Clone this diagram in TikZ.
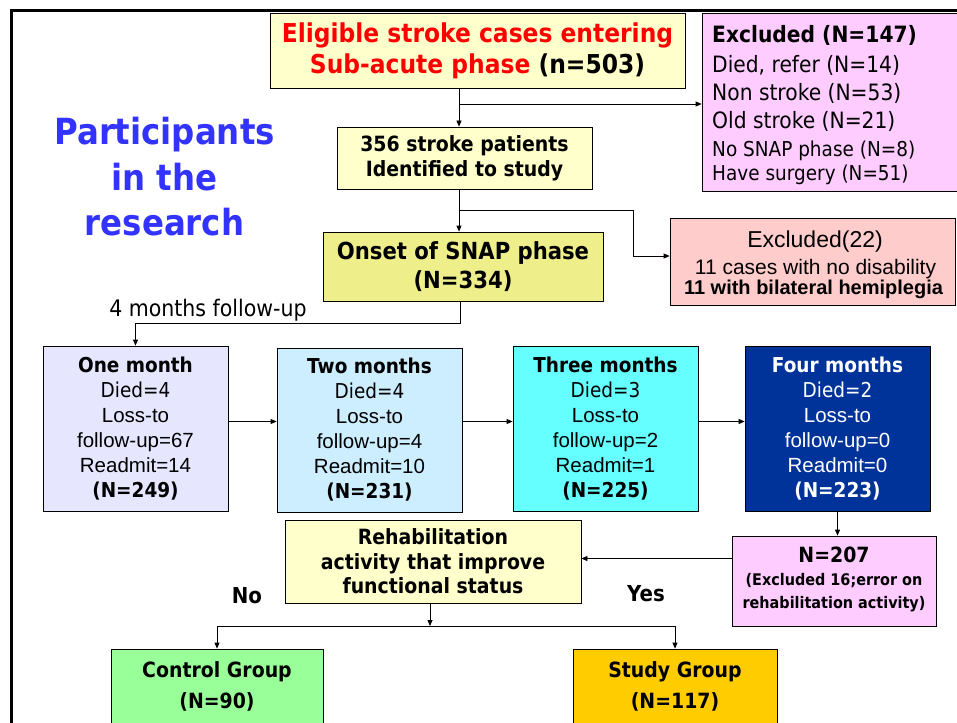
\documentclass[tikz,border=0pt]{standalone}
\usepackage{fontspec}
\setmainfont[FakeStretch=0.9]{DejaVu Sans}
\newfontfamily\ari{Liberation Sans}
\usetikzlibrary{arrows.meta}
\definecolor{titlered}{HTML}{FF0000}
\definecolor{partblue}{HTML}{3333FF}
\definecolor{cYel}{HTML}{FFFFCC}
\definecolor{cPink}{HTML}{FFCCFF}
\definecolor{cOnset}{HTML}{EEEE8A}
\definecolor{cSalmon}{HTML}{FFCCCC}
\definecolor{cOne}{HTML}{E6E6FF}
\definecolor{cTwo}{HTML}{CCEEFF}
\definecolor{cThree}{HTML}{66FFFF}
\definecolor{cFour}{HTML}{003399}
\definecolor{cCtrl}{HTML}{99FF99}
\definecolor{cStudy}{HTML}{FFCC00}
\tikzset{
  box/.style={draw=black, line width=0.8pt, inner sep=0pt, align=center},
  arr/.style={draw=black, line width=0.8pt, -{Triangle[length=6pt,width=5pt]}},
  ln/.style={draw=black, line width=0.8pt},
  monthfont/.style={font=\fontsize{20.5}{25}\selectfont},
  txt/.style={inner sep=0pt},
}
\begin{document}
\begin{tikzpicture}[x=1pt,y=-1pt]
\useasboundingbox (0,0) rectangle (957,722);
\fill[white] (0,0) rectangle (957,722);
% frame
\draw[line width=3pt] (11,730) -- (11,11) -- (960,11);

% title
\node[txt, partblue, font=\bfseries\fontsize{36}{45}\selectfont, anchor=base] (p1) at (164.5,145) {Participants};
\node[txt, partblue, font=\bfseries\fontsize{36}{45}\selectfont, anchor=base] (p2) at (164.5,190.7) {in the};
\node[txt, partblue, font=\bfseries\fontsize{36}{45}\selectfont, anchor=base] (p3) at (164.5,235.7) {research};

% top boxes
\node[box, fill=cYel, minimum width=415pt, minimum height=75pt, font=\bfseries\fontsize{26}{31}\selectfont] (elig) at (477.5,50.5)
  {\textcolor{titlered}{Eligible stroke cases entering}\\\textcolor{titlered}{Sub-acute phase} (n=503)};

\node[box, fill=cPink, minimum width=255pt, minimum height=178pt] (excl147) at (829.5,102) {};
\node[txt, anchor=base west, font=\bfseries\fontsize{22.5}{28}\selectfont] (e1) at (712,42.3) {Excluded (N=147)};
\node[txt, anchor=base west, font=\fontsize{22.5}{28}\selectfont] (e2) at (712,72.7) {Died, refer (N=14)};
\node[txt, anchor=base west, font=\fontsize{22.5}{28}\selectfont] (e3) at (712,100.7) {Non stroke (N=53)};
\node[txt, anchor=base west, font=\fontsize{22.5}{28}\selectfont] (e4) at (712,129) {Old stroke (N=21)};
\node[txt, anchor=base west, font=\fontsize{20.5}{25}\selectfont] (e5) at (712,156.7) {No SNAP phase (N=8)};
\node[txt, anchor=base west, font=\fontsize{20.5}{25}\selectfont] (e6) at (712,180.5) {Have surgery (N=51)};

\node[box, fill=cYel, minimum width=255pt, minimum height=62pt, font=\bfseries\fontsize{21}{25}\selectfont] (p356) at (464.5,158)
  {356 stroke patients\\Identified to study};

\node[box, fill=cOnset, minimum width=280pt, minimum height=69pt, font=\bfseries\fontsize{23.5}{29}\selectfont] (onset) at (463,266.5)
  {Onset of SNAP phase\\(N=334)};

\node[box, fill=cSalmon, minimum width=285pt, minimum height=87pt] (excl22) at (812.5,261.5) {};
\node[txt, anchor=base, font=\ari\fontsize{23}{28}\selectfont] (x1) at (815,247) {Excluded(22)};
\node[txt, anchor=base, font=\ari\fontsize{21}{25}\selectfont] (x2) at (815.5,274) {11 cases with no disability};
\node[txt, anchor=base, font=\ari\bfseries\fontsize{20}{24}\selectfont] (x3) at (813.5,294.3) {11 with bilateral hemiplegia};

% connectors top
\coordinate (j1) at (459,104);
\draw[arr] (elig.south -| j1) -- (p356.north -| j1);
\draw[arr] (j1) -- (j1 -| excl147.west);
\coordinate (j2) at (459,210);
\coordinate (j2b) at (633,256);
\draw[arr] (p356.south -| j2) -- (onset.north -| j2);
\draw[arr] (j2) -| (j2b) -- (j2b -| excl22.west);

\coordinate (j3) at (460,323);
\node[txt, anchor=base, font=\fontsize{22.8}{26}\selectfont] (fu) at (208,316) {4 months follow-up};

% months
\node[box, fill=cOne, minimum width=185pt, minimum height=165pt, monthfont] (one) at (135.5,428.5)
  {\textbf{One month}\\Died=4\\{\ari Loss-to}\\{\ari follow-up=67}\\{\ari Readmit=14}\\\textbf{(N=249)}};
\node[box, fill=cTwo, minimum width=185pt, minimum height=164pt, monthfont] (two) at (369.5,430)
  {\textbf{Two months}\\Died=4\\{\ari Loss-to}\\{\ari follow-up=4}\\{\ari Readmit=10}\\\textbf{(N=231)}};
\node[box, fill=cThree, minimum width=185pt, minimum height=165pt, monthfont] (three) at (605.5,428.5)
  {\textbf{Three months}\\Died=3\\{\ari Loss-to}\\{\ari follow-up=2}\\{\ari Readmit=1}\\\textbf{(N=225)}};
\node[box, fill=cFour, text=white, minimum width=185pt, minimum height=165pt, monthfont] (four) at (837.5,428.5)
  {\textbf{Four months}\\Died=2\\{\ari Loss-to}\\{\ari follow-up=0}\\{\ari Readmit=0}\\\textbf{(N=223)}};

\draw[arr] (onset.south -| j3) -- (j3) -| (one.north);
\coordinate (row) at (0,421.5);
\draw[arr] (one.east |- row) -- (two.west |- row);
\draw[arr] (two.east |- row) -- (three.west |- row);
\draw[arr] (three.east |- row) -- (four.west |- row);

% lower part
\node[box, fill=cPink, minimum width=204pt, minimum height=90pt] (n207) at (834,581) {};
\node[txt, anchor=base, font=\bfseries\fontsize{21}{25}\selectfont] (n1) at (834,562.3) {N=207};
\node[txt, anchor=base, font=\bfseries\fontsize{16}{20}\selectfont] (n2) at (834,585.7) {(Excluded 16;error on};
\node[txt, anchor=base, font=\bfseries\fontsize{16}{20}\selectfont] (n3) at (834,608.5) {rehabilitation activity)};

\node[box, fill=cYel, minimum width=296pt, minimum height=83pt, font=\bfseries\fontsize{21}{24.5}\selectfont] (rehab) at (433,561.5)
  {Rehabilitation\\activity that improve\\functional status};

\draw[arr] (four.south) -- (four.south |- n207.north);
\coordinate (row2) at (0,558.5);
\draw[arr] (n207.west |- row2) -- (rehab.east |- row2);

\node[txt, font=\bfseries\fontsize{22}{26}\selectfont] (no) at (247,596) {No};
\node[txt, font=\bfseries\fontsize{22}{26}\selectfont] (yes) at (646,594) {Yes};

\node[box, fill=cCtrl, minimum width=212pt, minimum height=75pt, font=\bfseries\fontsize{21}{31}\selectfont] (control) at (217,686.5)
  {Control Group\\(N=90)};
\node[box, fill=cStudy, minimum width=204pt, minimum height=75pt, font=\bfseries\fontsize{21}{31}\selectfont] (study) at (675,686.5)
  {Study Group\\(N=117)};

\coordinate (split) at (430,626);
\draw[arr] (rehab.south -| split) -- (split);
\draw[arr] (split) -| (control.north);
\draw[arr] (split) -| (study.north);
\end{tikzpicture}
\end{document}
